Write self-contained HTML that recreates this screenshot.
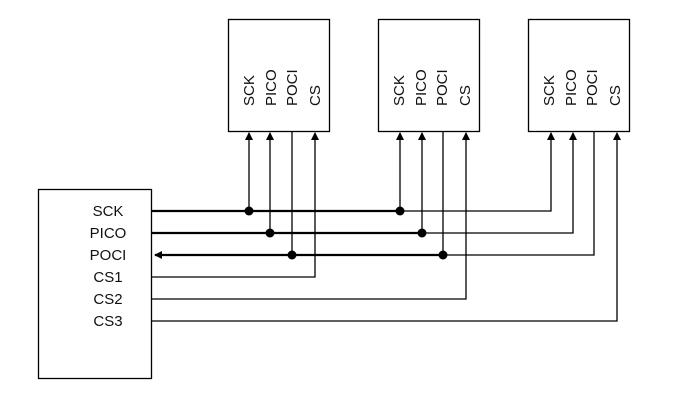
<!DOCTYPE html>
<html><head><style>body{margin:0;background:#fff}svg{display:block}text{font-family:"Liberation Sans",sans-serif;font-size:15px;fill:#111}</style></head>
<body>
<svg width="680" height="416" viewBox="0 0 680 416" xmlns="http://www.w3.org/2000/svg">
<defs><marker id="a" markerWidth="8" markerHeight="8" refX="7" refY="4" orient="auto" markerUnits="userSpaceOnUse"><path d="M0,0 L8,4 L0,8 z" fill="#000"/></marker></defs>
<g fill="none" stroke="#000" stroke-width="1.3">
<rect x="38.5" y="189.5" width="113" height="189"/>
<rect x="228.5" y="19.5" width="101" height="112"/>
<rect x="378.5" y="19.5" width="101" height="112"/>
<rect x="528.5" y="19.5" width="101" height="112"/>
</g>
<g stroke="#000" stroke-width="2.2" fill="none">
<line x1="152" y1="211" x2="400" y2="211"/>
<line x1="152" y1="233" x2="422" y2="233"/>
<line x1="443" y1="255" x2="155" y2="255" marker-end="url(#a)"/>
</g>
<g stroke="#000" stroke-width="1.3" fill="none">
<polyline points="400,211 551,211 551,133" marker-end="url(#a)"/>
<polyline points="422,233 573,233 573,133" marker-end="url(#a)"/>
<polyline points="443,255 594,255 594,132"/>
<polyline points="152,277 315,277 315,133" marker-end="url(#a)"/>
<polyline points="152,299 466,299 466,133" marker-end="url(#a)"/>
<polyline points="152,321 617,321 617,133" marker-end="url(#a)"/>
<line x1="249" y1="211" x2="249" y2="133" marker-end="url(#a)"/>
<line x1="270" y1="233" x2="270" y2="133" marker-end="url(#a)"/>
<line x1="292" y1="255" x2="292" y2="132"/>
<line x1="400" y1="211" x2="400" y2="133" marker-end="url(#a)"/>
<line x1="422" y1="233" x2="422" y2="133" marker-end="url(#a)"/>
<line x1="443" y1="255" x2="443" y2="132"/>
</g>
<g fill="#000">
<circle cx="249" cy="211" r="4.5"/><circle cx="270" cy="233" r="4.5"/><circle cx="292" cy="255" r="4.5"/>
<circle cx="400" cy="211" r="4.5"/><circle cx="422" cy="233" r="4.5"/><circle cx="443" cy="255" r="4.5"/>
</g>
<g text-anchor="middle">
<text x="108" y="216">SCK</text><text x="108" y="238">PICO</text><text x="108" y="260">POCI</text>
<text x="108" y="282">CS1</text><text x="108" y="304">CS2</text><text x="108" y="326">CS3</text>
</g>
<g text-anchor="start">
<text transform="translate(254,106) rotate(-90)">SCK</text>
<text transform="translate(276,106) rotate(-90)">PICO</text>
<text transform="translate(297,106) rotate(-90)">POCI</text>
<text transform="translate(320,106) rotate(-90)">CS</text>
<text transform="translate(404,106) rotate(-90)">SCK</text>
<text transform="translate(426,106) rotate(-90)">PICO</text>
<text transform="translate(447,106) rotate(-90)">POCI</text>
<text transform="translate(470,106) rotate(-90)">CS</text>
<text transform="translate(554,106) rotate(-90)">SCK</text>
<text transform="translate(576,106) rotate(-90)">PICO</text>
<text transform="translate(597,106) rotate(-90)">POCI</text>
<text transform="translate(620,106) rotate(-90)">CS</text>
</g>
</svg>
</body></html>
